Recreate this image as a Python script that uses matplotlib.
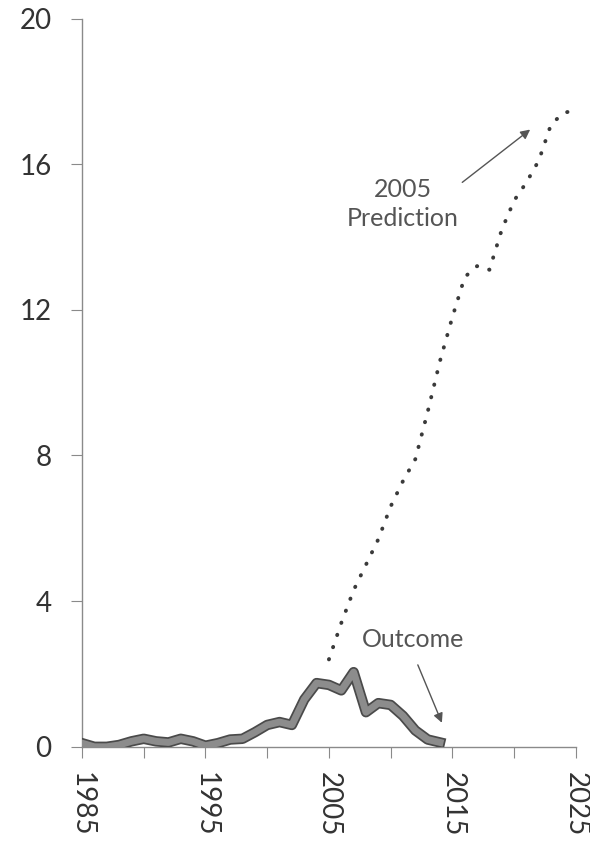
import matplotlib.pyplot as plt
import matplotlib.patheffects as pe

plt.rcParams["font.family"] = ["Lato", "DejaVu Sans"]

OUTCOME_YEARS = list(range(1985, 2015))
OUTCOME = [0.10, 0.00, 0.00, 0.05, 0.15, 0.22, 0.15, 0.12, 0.22, 0.15,
           0.03, 0.10, 0.20, 0.22, 0.40, 0.60, 0.68, 0.60, 1.30, 1.75,
           1.70, 1.55, 2.05, 0.95, 1.20, 1.15, 0.85, 0.45, 0.20, 0.12]

PRED_YEARS = list(range(2005, 2026))
PREDICTION = [2.4, 3.4, 4.3, 5.0, 5.7, 6.6, 7.3, 7.9, 9.2, 10.6,
              11.8, 12.9, 13.2, 13.1, 14.2, 15.0, 15.5, 16.1, 17.1, 17.4, 17.5]

X_TICKS = list(range(1985, 2026, 5))
X_LABELS = [str(y) if (y - 1985) % 10 == 0 else "" for y in X_TICKS]
Y_TICKS = [0, 4, 8, 12, 16, 20]

TXT = "#333333"
NOTE = "#555555"
AX = "#8a8a8a"


def main():
    fig = plt.figure(figsize=(5.9, 8.41), dpi=100)
    ax = fig.add_axes([0.139, 0.112, 0.837, 0.866])

    ax.plot(PRED_YEARS, PREDICTION, color="#3a3a3a", lw=2.8,
            linestyle=(0, (0.1, 3.2)), dash_capstyle="round", zorder=2)
    ax.plot(OUTCOME_YEARS, OUTCOME, color="#8c8c8c", lw=5,
            path_effects=[pe.Stroke(linewidth=7.5, foreground="#4a4a4a"), pe.Normal()],
            zorder=3)

    ax.set_xlim(1985, 2025)
    ax.set_ylim(0, 20)
    ax.set_xticks(X_TICKS, X_LABELS, rotation=-90, fontsize=20, color=TXT)
    ax.set_yticks(Y_TICKS, [str(v) for v in Y_TICKS], fontsize=20, color=TXT)
    ax.tick_params(axis="x", direction="out", length=8, color=AX, pad=10)
    ax.tick_params(axis="y", direction="out", length=8, color=AX, pad=14)

    for side in ["top", "right"]:
        ax.spines[side].set_visible(False)
    for side in ["left", "bottom"]:
        ax.spines[side].set_color(AX)
        ax.spines[side].set_linewidth(1.0)

    arrow = dict(arrowstyle="-|>", color=NOTE, lw=1.0, mutation_scale=14,
                 shrinkA=0, shrinkB=0)
    ax.text(2011.0, 14.9, "2005\nPrediction", ha="center", va="center",
            fontsize=18, color=NOTE, linespacing=1.3)
    ax.annotate("", xy=(2021.3, 16.95), xytext=(2015.8, 15.5), arrowprops=arrow)
    ax.text(2011.8, 2.94, "Outcome", ha="center", va="center",
            fontsize=18, color=NOTE)
    ax.annotate("", xy=(2014.15, 0.66), xytext=(2012.2, 2.25), arrowprops=arrow)

    fig.savefig("out.png", dpi=100, facecolor="white")


if __name__ == "__main__":
    main()
